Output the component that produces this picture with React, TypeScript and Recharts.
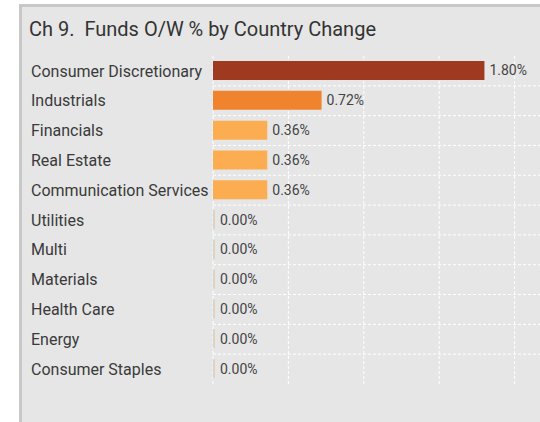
import React from "react";
import { BarChart, Bar, XAxis, YAxis, CartesianGrid, Cell, LabelList } from "recharts";

const categories = [
  "Consumer Discretionary",
  "Industrials",
  "Financials",
  "Real Estate",
  "Communication Services",
  "Utilities",
  "Multi",
  "Materials",
  "Health Care",
  "Energy",
  "Consumer Staples",
];
const values = [1.8, 0.72, 0.36, 0.36, 0.36, 0, 0, 0, 0, 0, 0];
const xTicks = [0, 0.5, 1, 1.5, 2, 2.5];
const title = "Ch 9.  Funds O/W % by Country Change";

const data = categories.map((name, i) => ({ name, value: values[i] }));

const colorFor = (v: number) => {
  if (v >= 1.5) return "#9f3a20";
  if (v >= 0.6) return "#f0832e";
  if (v > 0) return "#fcad52";
  return "#d9d4c4";
};

const FONT = "Roboto, 'DejaVu Sans', sans-serif";

const YTick = (props: any) => (
  <text
    x={31}
    y={props.y}
    dy="0.35em"
    textAnchor="start"
    fill="#3a3a3a"
    fontSize={16}
    fontFamily={FONT}
  >
    {props.payload.value}
  </text>
);

export default function App() {
  return (
    <div
      style={{
        position: "fixed",
        left: 0,
        top: 0,
        width: 540,
        height: 422,
        background: "#ffffff",
        overflow: "hidden",
      }}
    >
      <div
        style={{
          position: "absolute",
          left: 19,
          top: 4,
          width: 560,
          height: 440,
          background: "#e6e6e6",
          borderLeft: "3px solid #c8c8c8",
          borderTop: "3px solid #c8c8c8",
        }}
      />
      <div
        style={{
          position: "absolute",
          left: 29,
          top: 15,
          fontFamily: FONT,
          fontSize: 20,
          color: "#333333",
          whiteSpace: "pre",
          lineHeight: "28px",
        }}
      >
        {title}
      </div>
      <div style={{ position: "absolute", left: 0, top: 0 }}>
        <BarChart
          width={600}
          height={422}
          data={data}
          layout="vertical"
          margin={{ top: 56, right: 10, bottom: 38, left: 0 }}
        >
          <CartesianGrid
            stroke="#ffffff"
            strokeDasharray="3 2"
            horizontalCoordinatesGenerator={({ offset }: any) =>
              categories
                .slice(1)
                .map((_, i) => offset.top + (offset.height * (i + 1)) / categories.length)
            }
          />
          <XAxis type="number" domain={[0, 2.5]} ticks={xTicks} hide />
          <YAxis
            type="category"
            dataKey="name"
            width={213}
            axisLine={false}
            tickLine={false}
            tick={YTick}
            interval={0}
          />
          <Bar dataKey="value" isAnimationActive={false} minPointSize={2} barSize={19}>
            {data.map((d, i) => (
              <Cell key={i} fill={colorFor(d.value)} />
            ))}
            <LabelList
              dataKey="value"
              position="right"
              offset={5}
              formatter={(v: any) => `${Number(v).toFixed(2)}%`}
              fill="#444444"
              fontSize={14}
              fontFamily={FONT}
            />
          </Bar>
        </BarChart>
      </div>
    </div>
  );
}
